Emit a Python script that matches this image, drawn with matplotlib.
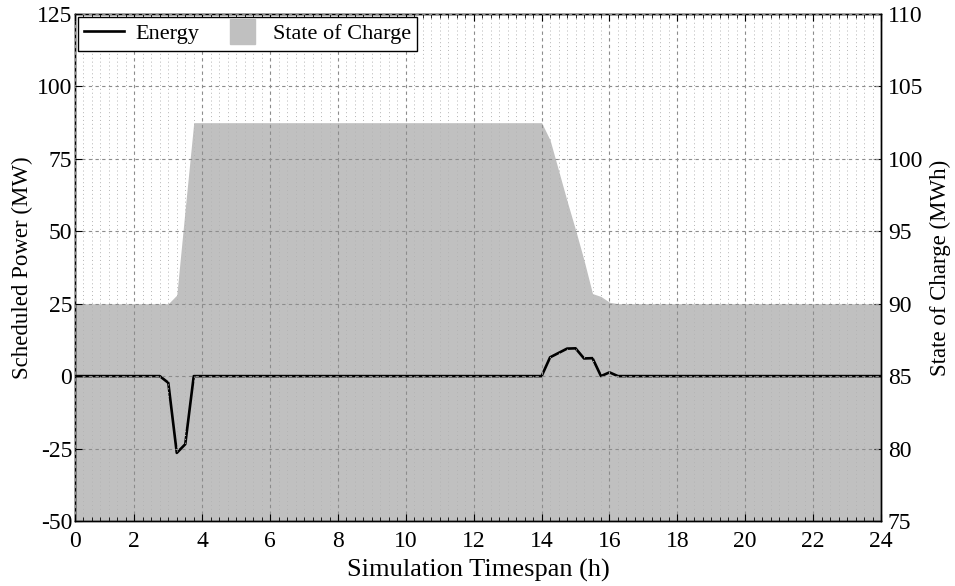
import matplotlib
matplotlib.use("Agg")
import matplotlib.pyplot as plt
from matplotlib.lines import Line2D
from matplotlib.ticker import MultipleLocator
import numpy as np

plt.rcParams['font.family'] = ['Liberation Serif', 'DejaVu Serif']
plt.rcParams['font.size'] = 17
plt.rcParams['axes.unicode_minus'] = False

# quarter-hour steps, 0.25 h ... 24 h
hours = np.arange(1, 97) * 0.25

# scheduled power (MW), one value per quarter hour
energy = [
    0, 0, 0, 0, 0, 0, 0, 0, 0, 0, 0, -2.3,
    -26.5, -23.5, 0, 0, 0, 0, 0, 0, 0, 0, 0, 0,
    0, 0, 0, 0, 0, 0, 0, 0, 0, 0, 0, 0,
    0, 0, 0, 0, 0, 0, 0, 0, 0, 0, 0, 0,
    0, 0, 0, 0, 0, 0, 0, 0, 6.5, 8.0, 9.5, 9.6,
    6.1, 6.2, 0, 1.3, 0, 0, 0, 0, 0, 0, 0, 0,
    0, 0, 0, 0, 0, 0, 0, 0, 0, 0, 0, 0,
    0, 0, 0, 0, 0, 0, 0, 0, 0, 0, 0, 0,
]

# state of charge (MWh)
soc = [
    90, 90, 90, 90, 90, 90, 90, 90, 90, 90, 90, 90,
    90.6, 96.6, 102.5, 102.5, 102.5, 102.5, 102.5, 102.5, 102.5, 102.5, 102.5, 102.5,
    102.5, 102.5, 102.5, 102.5, 102.5, 102.5, 102.5, 102.5, 102.5, 102.5, 102.5, 102.5,
    102.5, 102.5, 102.5, 102.5, 102.5, 102.5, 102.5, 102.5, 102.5, 102.5, 102.5, 102.5,
    102.5, 102.5, 102.5, 102.5, 102.5, 102.5, 102.5, 102.5, 101.3, 99.2, 97.1, 95.1,
    93.0, 90.7, 90.5, 90.1, 90, 90, 90, 90, 90, 90, 90, 90,
    90, 90, 90, 90, 90, 90, 90, 90, 90, 90, 90, 90,
    90, 90, 90, 90, 90, 90, 90, 90, 90, 90, 90, 90,
]

xtick_pos = [0.25] + list(range(2, 25, 2))
xtick_labels = [str(h) for h in range(0, 25, 2)]
power_ticks = list(range(-50, 126, 25))
soc_ticks = list(range(75, 111, 5))

fig = plt.figure(figsize=(9.55, 5.86), dpi=100)
ax = fig.add_axes([0.0785, 0.111, 0.844, 0.865])
ax2 = ax.twinx()

# SOC fill on the right axis, drawn underneath
ax2.fill_between(hours, 75, soc, color='#c0c0c0', linewidth=0)
ax2.set_ylim(75, 110)
ax2.set_yticks(soc_ticks)
ax2.set_ylabel('State of Charge (MWh)', fontsize=16.5, labelpad=5)
ax2.tick_params(axis='y', direction='in', length=5, pad=5)

ax.set_zorder(ax2.get_zorder() + 1)
ax.patch.set_visible(False)

ax.plot(hours, energy, color='black', linewidth=1.9)
ax.set_xlim(0.25, 24)
ax.set_ylim(-50, 125)
ax.set_xticks(xtick_pos)
ax.set_xticklabels(xtick_labels)
ax.set_yticks(power_ticks)
ax.xaxis.set_minor_locator(MultipleLocator(0.25))
ax.tick_params(which='both', direction='in', top=True)
ax.tick_params(which='major', length=5)
ax.tick_params(which='minor', length=3)
ax.tick_params(axis='x', pad=7)
ax.tick_params(axis='y', right=False, pad=2)

ax.set_axisbelow(False)
ax.grid(True, which='major', linestyle=(0, (3, 3)), color='#8c8c8c', linewidth=0.8)
ax.grid(True, which='minor', axis='x', linestyle=(0, (1, 3)), color='#b4b4b4', linewidth=0.7)

ax.set_xlabel('Simulation Timespan (h)', fontsize=19, labelpad=5)
ax.set_ylabel('Scheduled Power (MW)', fontsize=16.5, labelpad=3)

handles = [
    Line2D([], [], color='black', linewidth=1.9),
    Line2D([], [], marker='s', markersize=18, color='#c0c0c0', linestyle='none'),
]
leg = ax.legend(handles, ['Energy', 'State of Charge'], loc='upper left', ncol=2,
                fontsize=16, fancybox=False, framealpha=1, edgecolor='black',
                handlelength=1.8, handletextpad=0.5, columnspacing=1.0,
                borderaxespad=0.12, borderpad=0.3)
leg.get_frame().set_linewidth(1.0)

for a in (ax, ax2):
    for s in a.spines.values():
        s.set_linewidth(1.0)

fig.savefig('out.png', dpi=100)
